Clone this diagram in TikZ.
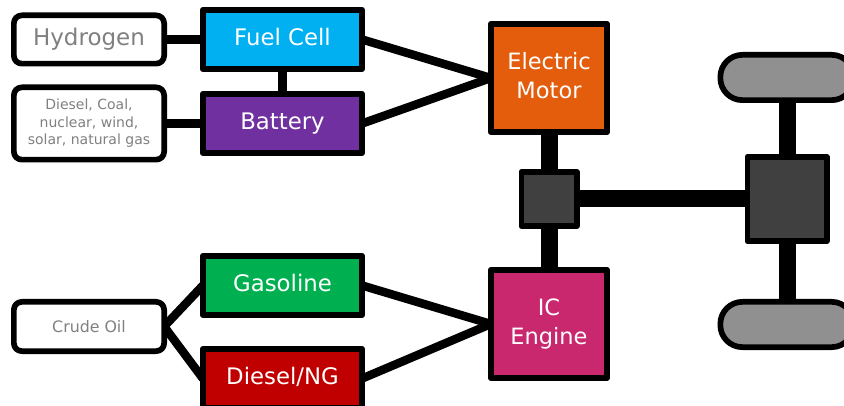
\documentclass[tikz,border=0pt]{standalone}
\usepackage{fontspec}
\setmainfont{DejaVu Sans}
\usetikzlibrary{positioning, backgrounds}

\definecolor{fuelblue}{HTML}{00B0F0}
\definecolor{battpurple}{HTML}{7030A0}
\definecolor{gasgreen}{HTML}{00B050}
\definecolor{dieselred}{HTML}{C00000}
\definecolor{motororange}{HTML}{E35D0D}
\definecolor{enginepink}{HTML}{C9286F}
\definecolor{gearbox}{HTML}{404040}
\definecolor{tyre}{HTML}{909090}

\begin{document}
\begin{tikzpicture}[
    x=1pt, y=1pt,
    every node/.style={inner sep=0pt, outer sep=0pt, align=center, line join=round},
    source/.style={draw, line width=5.7pt, rounded corners=8pt, fill=white, text=gray, minimum width=150.3pt},
    carrier/.style={draw, line width=5.7pt, text=white, font=\fontsize{22.8}{27}\selectfont, text height=17.3pt, text depth=5.4pt, minimum width=159.3pt, minimum height=59.3pt},
    power/.style={draw, line width=5.7pt, text=white, font=\fontsize{22.5}{28.7}\selectfont, text depth=5.3pt, minimum width=116.3pt, minimum height=108.3pt},
    gears/.style={draw, line width=5.7pt, fill=gearbox},
    wheel/.style={draw, line width=5.7pt, fill=tyre, rounded corners=22pt, minimum width=133.3pt, minimum height=45.3pt},
    link/.style={line width=8.5pt},
    shaft/.style={line width=17pt}
]
    \clip (0,0) rectangle (844,-406);

    % gaps are measured between box outlines, so the stroke counts in them
    \node[carrier, fill=fuelblue] (fuel) at (282.5,-39.5) {Fuel Cell};
    \node[carrier, fill=battpurple, below=24.7pt of fuel] (battery) {Battery};
    \node[carrier, fill=gasgreen, below=102.7pt of battery] (gasoline) {Gasoline};
    \node[carrier, fill=dieselred, below=33.7pt of gasoline] (diesel) {Diesel/NG};

    \node[source, minimum height=48.3pt, font=\fontsize{23}{27}\selectfont, left=38.7pt of fuel] (hydrogen) {Hydrogen};
    \node[source, minimum height=72.3pt, font=\fontsize{14}{17.5}\selectfont, left=38.7pt of battery] (mix) {Diesel, Coal,\\nuclear, wind,\\solar, natural gas};
    \node[source, minimum height=49.3pt, font=\fontsize{15.8}{18}\selectfont] (crude) at (89,-326.5) {Crude Oil};

    \node[power, fill=motororange] (motor) at (549,-78) {Electric\\Motor};
    \node[gears, minimum width=55.3pt, minimum height=54.3pt, below=39.7pt of motor] (coupler) {};
    \node[power, fill=enginepink, below=43.7pt of coupler] (engine) {IC\\Engine};
    \node[gears, minimum width=79.3pt, minimum height=84.3pt, right=170.7pt of coupler] (diff) {};
    \node[wheel, above=56.7pt of diff] (front) {};
    \node[wheel, below=60.7pt of diff] (rear) {};

    \begin{scope}[on background layer]
        \draw[link] (hydrogen) -- (fuel);
        \draw[link] (mix) -- (battery);
        \draw[link] (fuel) -- (battery);
        \draw[link] (fuel.east) -- (motor.west);
        \draw[link] (battery.east) -- (motor.west);
        \draw[link] (gasoline.east) -- (engine.west);
        \draw[link] (diesel.east) -- (engine.west);
        \draw[link] (crude.east) -- (gasoline.west);
        \draw[link] (crude.east) -- (diesel.west);

        \draw[shaft] (motor) -- (coupler);
        \draw[shaft] (coupler) -- (engine);
        \draw[shaft] (coupler) -- (diff);
        \draw[shaft] (front) -- (diff);
        \draw[shaft] (diff) -- (rear);
    \end{scope}
\end{tikzpicture}
\end{document}
